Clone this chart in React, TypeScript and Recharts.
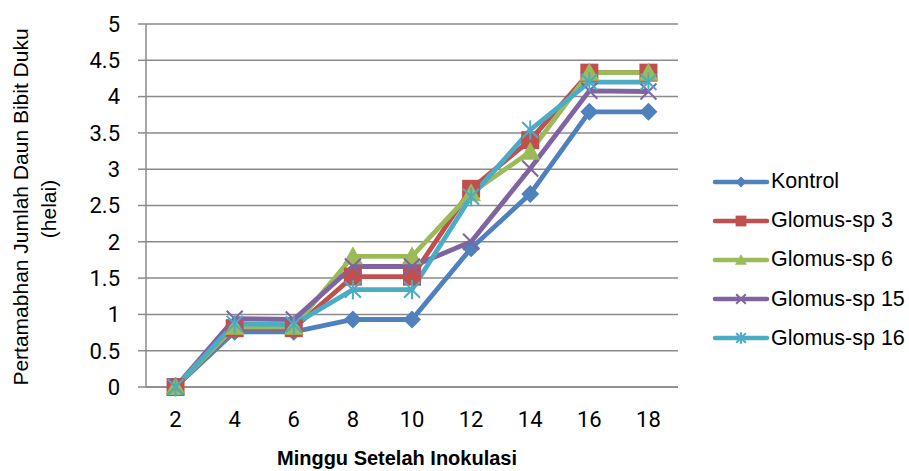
import { CartesianGrid, Line, LineChart, XAxis, YAxis } from 'recharts';

const weeks = ['2', '4', '6', '8', '10', '12', '14', '16', '18'];
const kontrol = [0, 0.76, 0.76, 0.93, 0.93, 1.91, 2.66, 3.79, 3.79];
const glomus3 = [0, 0.81, 0.81, 1.52, 1.52, 2.73, 3.4, 4.33, 4.33];
const glomus6 = [0, 0.83, 0.83, 1.8, 1.8, 2.67, 3.24, 4.33, 4.33];
const glomus15 = [0, 0.94, 0.93, 1.66, 1.66, 2.0, 3.01, 4.08, 4.07];
const glomus16 = [0, 0.87, 0.86, 1.34, 1.34, 2.62, 3.54, 4.2, 4.2];
const yTicks = [0, 0.5, 1, 1.5, 2, 2.5, 3, 3.5, 4, 4.5, 5];

const seriesInfo = [
  { key: 'kontrol', name: 'Kontrol', color: '#4F81BD', shape: 'diamond' },
  { key: 'glomus3', name: 'Glomus-sp 3', color: '#C0504D', shape: 'square' },
  { key: 'glomus6', name: 'Glomus-sp 6', color: '#9BBB59', shape: 'triangle' },
  { key: 'glomus15', name: 'Glomus-sp 15', color: '#8064A2', shape: 'x' },
  { key: 'glomus16', name: 'Glomus-sp 16', color: '#4BACC6', shape: 'star' },
];

const chartData = weeks.map((w, i) => ({
  week: w,
  kontrol: kontrol[i],
  glomus3: glomus3[i],
  glomus6: glomus6[i],
  glomus15: glomus15[i],
  glomus16: glomus16[i],
}));

const Marker = ({ cx, cy, shape, color, s = 1 }: any) => {
  if (cx == null || cy == null) return null;
  switch (shape) {
    case 'diamond': {
      const r = 9 * s;
      return <polygon points={`${cx},${cy - r} ${cx + r},${cy} ${cx},${cy + r} ${cx - r},${cy}`} fill={color} />;
    }
    case 'square': {
      const r = 9 * s;
      return <rect x={cx - r} y={cy - r} width={r * 2} height={r * 2} fill={color} />;
    }
    case 'triangle': {
      const r = 10 * s;
      return <polygon points={`${cx},${cy - r} ${cx + r},${cy + r * 0.8} ${cx - r},${cy + r * 0.8}`} fill={color} />;
    }
    case 'x': {
      const r = 8 * s;
      return (
        <g stroke={color} strokeWidth={2}>
          <line x1={cx - r} y1={cy - r} x2={cx + r} y2={cy + r} />
          <line x1={cx - r} y1={cy + r} x2={cx + r} y2={cy - r} />
        </g>
      );
    }
    default: {
      const r = 8 * s;
      return (
        <g stroke={color} strokeWidth={2}>
          <line x1={cx - r} y1={cy - r} x2={cx + r} y2={cy + r} />
          <line x1={cx - r} y1={cy + r} x2={cx + r} y2={cy - r} />
          <line x1={cx} y1={cy - r * 1.2} x2={cx} y2={cy + r * 1.2} />
        </g>
      );
    }
  }
};

const LegendBox = () => (
  <div
    style={{
      position: 'absolute',
      left: 712,
      top: 162,
      fontFamily: 'Liberation Sans, Arial, sans-serif',
      fontSize: 21.5,
      color: '#000',
    }}
  >
    {seriesInfo.map((s) => (
      <div key={s.key} style={{ display: 'flex', alignItems: 'center', height: 39.2 }}>
        <svg width={58} height={20}>
          <line x1={3} y1={10} x2={55} y2={10} stroke={s.color} strokeWidth={4.5} strokeLinecap="round" />
          <Marker cx={29} cy={10} shape={s.shape} color={s.color} s={0.6} />
        </svg>
        <span style={{ marginLeft: 1 }}>{s.name}</span>
      </div>
    ))}
  </div>
);

const YTitle = () => (
  <g fontFamily="Liberation Sans, Arial, sans-serif" fontSize={21} fill="#000">
    <text x={20} y={207} textAnchor="middle" dominantBaseline="central" transform="rotate(-90 20 207)">
      Pertamabhan Jumlah Daun Bibit Duku
    </text>
    <text x={48} y={209} textAnchor="middle" dominantBaseline="central" transform="rotate(-90 48 209)">
      (helai)
    </text>
  </g>
);

const XTitle = () => (
  <text
    x={397}
    y={458}
    textAnchor="middle"
    dominantBaseline="central"
    fontFamily="Liberation Sans, Arial, sans-serif"
    fontSize={20}
    fontWeight="bold"
    fill="#000"
  >
    Minggu Setelah Inokulasi
  </text>
);

const tickStyle = { fontFamily: 'Roboto, sans-serif', fontSize: 22, fill: '#000' };

export default function App() {
  return (
    <div style={{ position: 'absolute', left: 0, top: 0, width: 909, height: 471, background: '#fff' }}>
      <LineChart width={909} height={471} data={chartData} margin={{ top: 24, right: 231, bottom: 24, left: 0 }}>
        <CartesianGrid vertical={false} stroke="#8a8a8a" strokeWidth={1.5} />
        <XAxis
          dataKey="week"
          scale="band"
          height={60}
          tickLine={false}
          tickSize={0}
          tickMargin={24}
          tick={tickStyle}
          axisLine={{ stroke: '#8a8a8a', strokeWidth: 1.5 }}
          label={<XTitle />}
        />
        <YAxis
          width={146}
          domain={[0, 5]}
          ticks={yTicks}
          interval={0}
          tickSize={8}
          tickMargin={18}
          tick={tickStyle}
          tickLine={{ stroke: '#8a8a8a', strokeWidth: 1.5 }}
          axisLine={{ stroke: '#8a8a8a', strokeWidth: 1.5 }}
          label={<YTitle />}
        />
        {seriesInfo.map((s) => (
          <Line
            key={s.key}
            dataKey={s.key}
            name={s.name}
            stroke={s.color}
            strokeWidth={4.8}
            isAnimationActive={false}
            dot={(p: any) => <Marker key={`${s.key}-${p.index}`} cx={p.cx} cy={p.cy} shape={s.shape} color={s.color} />}
            activeDot={false}
          />
        ))}
      </LineChart>
      <LegendBox />
    </div>
  );
}
